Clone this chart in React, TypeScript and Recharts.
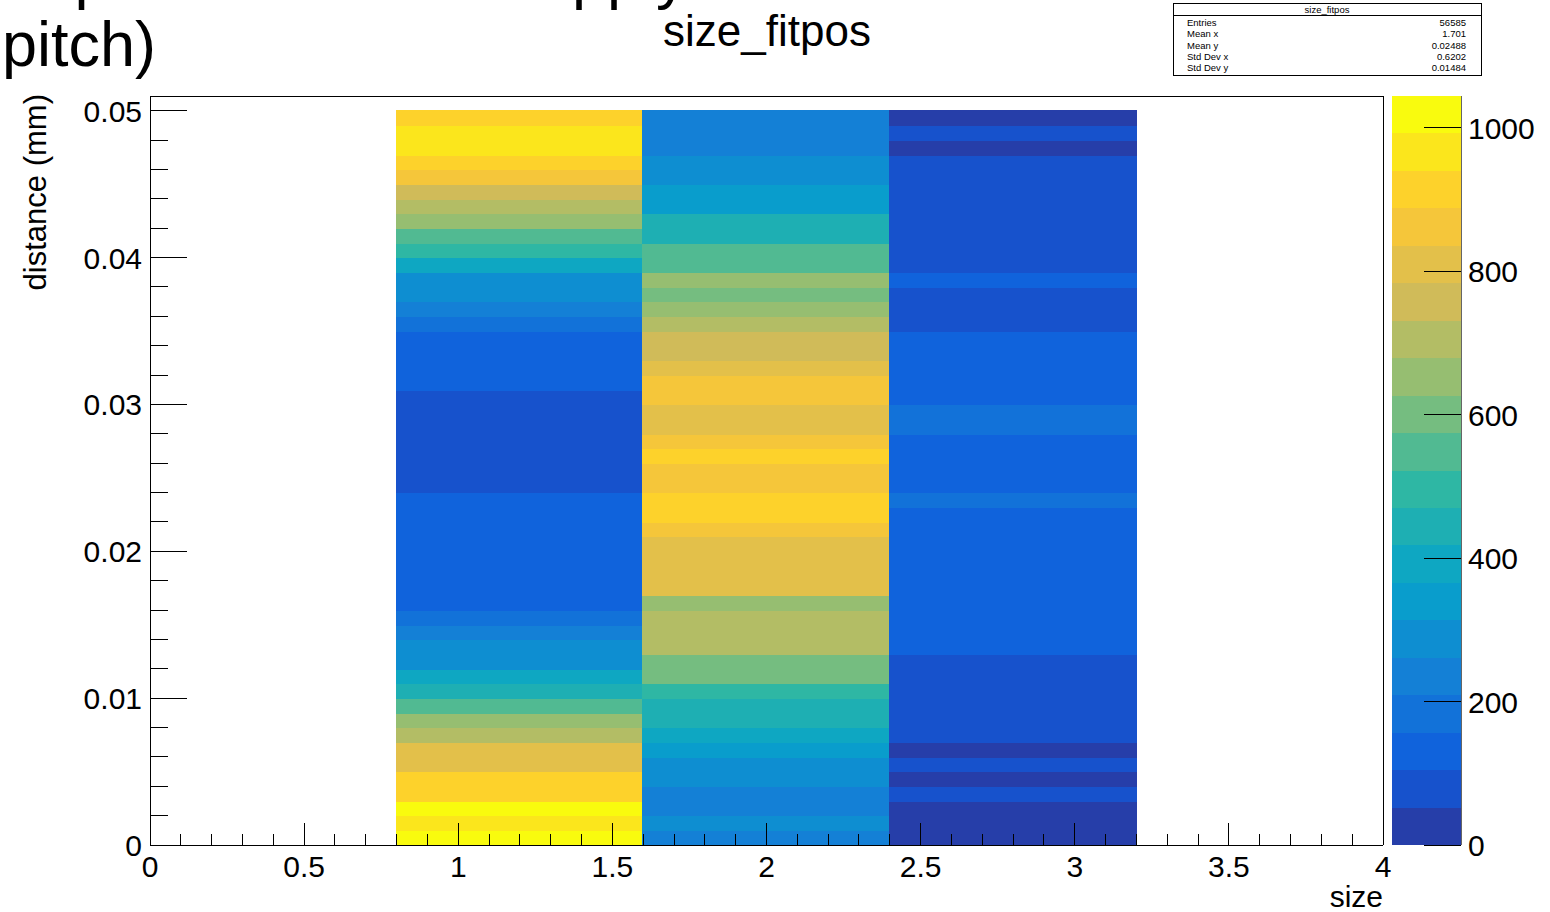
import React from 'react';
import { ScatterChart, Scatter, BarChart, Bar, XAxis, YAxis, ReferenceArea } from 'recharts';

const FONT = "'Liberation Sans', Arial, Helvetica, sans-serif";

// x bins (cluster size) that have entries, and their bin edges
const sizeValues = [1, 2, 3];
const sizeBinEdges = [0.8, 1.6, 2.4, 3.2];
const Y_BIN_WIDTH = 0.001;

// counts per 0.001 mm distance bin, from 0 (bottom) up to 0.05 (top)
const countsSize1 = [
  1044, 968, 1012, 921, 903, 818, 797, 712, 641, 556,
  452, 389, 301, 276, 227, 184, 148, 129, 121, 116,
  112, 118, 125, 137, 98, 86, 79, 74, 81, 92,
  101, 114, 132, 141, 153, 193, 244, 279, 306, 402,
  497, 561, 664, 708, 762, 858, 917, 958, 973, 925,
];
const countsSize2 = [
  238, 284, 251, 246, 292, 309, 341, 396, 447, 462,
  503, 597, 618, 694, 716, 703, 668, 806, 821, 812,
  827, 851, 912, 926, 872, 864, 908, 877, 829, 816,
  846, 869, 803, 771, 752, 718, 657, 611, 642, 568,
  541, 463, 438, 358, 331, 297, 272, 254, 241, 229,
];
const countsSize3 = [
  21, 34, 45, 61, 48, 67, 50, 72, 84, 91,
  96, 88, 99, 112, 124, 131, 137, 128, 142, 133,
  126, 119, 138, 163, 147, 135, 129, 141, 168, 160,
  144, 132, 121, 117, 108, 97, 89, 83, 106, 78,
  74, 71, 66, 62, 59, 57, 55, 49, 53, 38,
];
const countsBySize = [countsSize1, countsSize2, countsSize3];

const xMajorTicks = [0, 0.5, 1, 1.5, 2, 2.5, 3, 3.5, 4];
const xTickLabels = ['0', '0.5', '1', '1.5', '2', '2.5', '3', '3.5', '4'];
const yMajorTicks = [0, 0.01, 0.02, 0.03, 0.04, 0.05];
const yTickLabels = ['0', '0.01', '0.02', '0.03', '0.04', '0.05'];
const zTicks = [0, 200, 400, 600, 800, 1000];

const statsRows = [
  ['Entries', '56585'],
  ['Mean x', '1.701'],
  ['Mean y', '0.02488'],
  ['Std Dev x', '0.6202'],
  ['Std Dev y', '0.01484'],
];

const Z_MAX = 1044;
const N_LEVELS = 20;

// ROOT kBird palette
const birdStops = [0, 0.125, 0.25, 0.375, 0.5, 0.625, 0.75, 0.875, 1];
const birdR = [0.2082, 0.0592, 0.078, 0.0232, 0.1802, 0.5301, 0.8186, 0.9956, 0.9764];
const birdG = [0.1664, 0.3599, 0.5041, 0.6419, 0.7178, 0.7492, 0.7328, 0.7862, 0.9832];
const birdB = [0.5293, 0.8684, 0.8385, 0.7914, 0.6425, 0.4662, 0.3499, 0.1968, 0.0539];

function birdColor(t: number) {
  let j = 0;
  while (j < birdStops.length - 2 && t > birdStops[j + 1]) j++;
  const f = (t - birdStops[j]) / (birdStops[j + 1] - birdStops[j]);
  const c = (a: number[]) => Math.round(255 * (a[j] + (a[j + 1] - a[j]) * f));
  return `rgb(${c(birdR)},${c(birdG)},${c(birdB)})`;
}

const levelColors = Array.from({ length: N_LEVELS }, (_, i) => birdColor((i + 0.99) / N_LEVELS));

function levelColor(v: number) {
  const lvl = Math.min(N_LEVELS - 1, Math.floor(v / (Z_MAX / N_LEVELS)));
  return levelColors[lvl];
}

function subdivide(majors: number[], n: number) {
  const out: number[] = [];
  for (let i = 0; i < majors.length - 1; i++) {
    for (let k = 1; k < n; k++) out.push(+(majors[i] + ((majors[i + 1] - majors[i]) * k) / n).toFixed(6));
  }
  return out;
}

const xTicks = [...xMajorTicks, ...subdivide(xMajorTicks, 5)].sort((a, b) => a - b);
const yTicks = [...yMajorTicks, ...subdivide(yMajorTicks, 5)].sort((a, b) => a - b);

const cells = sizeValues.flatMap((s, c) =>
  countsBySize[c].map((v, i) => ({
    key: `${s}-${i}`,
    size: s,
    x1: sizeBinEdges[c],
    x2: sizeBinEdges[c + 1],
    y1: +(i * Y_BIN_WIDTH).toFixed(6),
    y2: +((i + 1) * Y_BIN_WIDTH).toFixed(6),
    yc: +((i + 0.5) * Y_BIN_WIDTH).toFixed(6),
    v,
  }))
);

const colorbarRow: Record<string, number | string> = { name: 'z' };
levelColors.forEach((_, i) => {
  colorbarRow[`l${i}`] = Z_MAX / N_LEVELS;
});

const majorIndex = (list: number[], v: number) => list.findIndex((m) => Math.abs(m - v) < 1e-9);

const XTick = (props: any) => {
  const { x, y, payload } = props;
  const idx = majorIndex(xMajorTicks, payload.value);
  const len = idx >= 0 ? 22 : 11;
  return (
    <g>
      <line x1={x} x2={x} y1={y} y2={y - len} stroke="#000" strokeWidth={1} />
      {idx >= 0 && (
        <text x={x} y={y + 32} textAnchor="middle" fontSize={30} fontFamily={FONT} fill="#000">
          {xTickLabels[idx]}
        </text>
      )}
    </g>
  );
};

const YTick = (props: any) => {
  const { x, y, payload } = props;
  const idx = majorIndex(yMajorTicks, payload.value);
  const len = idx >= 0 ? 37 : 18;
  return (
    <g>
      <line x1={x} x2={x + len} y1={y} y2={y} stroke="#000" strokeWidth={1} />
      {idx >= 0 && (
        <text x={x - 8} y={y + 11} textAnchor="end" fontSize={30} fontFamily={FONT} fill="#000">
          {yTickLabels[idx]}
        </text>
      )}
    </g>
  );
};

const ZTick = (props: any) => {
  const { x, y, payload } = props;
  return (
    <g>
      <line x1={x - 37} x2={x} y1={y} y2={y} stroke="#000" strokeWidth={1} />
      <text x={x + 7} y={y + 11} textAnchor="start" fontSize={30} fontFamily={FONT} fill="#000">
        {payload.value}
      </text>
    </g>
  );
};

const NoMark = () => <g />;

export default function App() {
  return (
    <div style={{ position: 'absolute', left: 0, top: 0, width: 1550, height: 912, background: '#fff', overflow: 'hidden' }}>
      <div style={{ position: 'absolute', left: 0, top: 0, shapeRendering: 'crispEdges' }}>
        <ScatterChart width={1550} height={912} margin={{ top: 95, right: 0, bottom: 0, left: 0 }}>
          <XAxis
            xAxisId="x"
            dataKey="size"
            type="number"
            domain={[0, 4]}
            allowDataOverflow
            ticks={xTicks}
            interval={0}
            height={67}
            tickSize={0}
            tickMargin={0}
            tick={<XTick />}
            tickLine={false}
            axisLine={{ stroke: '#000' }}
          />
          <XAxis
            xAxisId="top"
            dataKey="size"
            orientation="top"
            type="number"
            domain={[0, 4]}
            allowDataOverflow
            height={1}
            tick={false}
            tickLine={false}
            axisLine={{ stroke: '#000' }}
          />
          <YAxis
            yAxisId="y"
            dataKey="yc"
            type="number"
            domain={[0, 0.051]}
            allowDataOverflow
            ticks={yTicks}
            interval={0}
            width={150}
            tickSize={0}
            tickMargin={0}
            tick={<YTick />}
            tickLine={false}
            axisLine={{ stroke: '#000' }}
          />
          <YAxis
            yAxisId="right"
            dataKey="yc"
            orientation="right"
            type="number"
            domain={[0, 0.051]}
            allowDataOverflow
            width={167}
            tick={false}
            tickLine={false}
            axisLine={{ stroke: '#000' }}
          />
          {cells.map((c) => (
            <ReferenceArea
              key={c.key}
              xAxisId="x"
              yAxisId="y"
              x1={c.x1}
              x2={c.x2}
              y1={c.y1}
              y2={c.y2}
              fill={levelColor(c.v)}
              fillOpacity={1}
              stroke={levelColor(c.v)}
              strokeWidth={1.6}
              ifOverflow="visible"
            />
          ))}
          <Scatter data={cells} xAxisId="x" yAxisId="y" dataKey="yc" shape={<NoMark />} isAnimationActive={false} />
          <Scatter data={cells} xAxisId="top" yAxisId="right" dataKey="yc" shape={<NoMark />} isAnimationActive={false} />
        </ScatterChart>
      </div>

      <div style={{ position: 'absolute', left: 1392, top: 86, shapeRendering: 'crispEdges' }}>
        <BarChart width={158} height={779} data={[colorbarRow]} margin={{ top: 10, right: 0, bottom: 20, left: 0 }} barCategoryGap={0} barGap={0}>
          <XAxis dataKey="name" hide />
          <YAxis
            orientation="right"
            type="number"
            domain={[0, Z_MAX]}
            allowDataOverflow
            ticks={zTicks}
            interval={0}
            width={89}
            tickSize={0}
            tickMargin={0}
            tick={<ZTick />}
            tickLine={false}
            axisLine={{ stroke: '#666' }}
          />
          {levelColors.map((col, i) => (
            <Bar key={i} dataKey={`l${i}`} stackId="z" fill={col} isAnimationActive={false} />
          ))}
        </BarChart>
      </div>

      <svg width={1550} height={912} style={{ position: 'absolute', left: 0, top: 0, pointerEvents: 'none' }} fontFamily={FONT}>
        <text x={1} y={-3} fontSize={63} fill="#000">Expected hit in the apply modulo</text>
        <text x={2} y={66} fontSize={63} fill="#000">pitch)</text>
        <text x={767} y={46} fontSize={44} textAnchor="middle" fill="#000">size_fitpos</text>
        <text x={46} y={94} fontSize={31} textAnchor="end" transform="rotate(-90 46 94)" fill="#000">distance (mm)</text>
        <text x={1383} y={907} fontSize={30} textAnchor="end" fill="#000">size</text>

        <g shapeRendering="crispEdges">
          <rect x={1173.5} y={3.5} width={308} height={72} fill="#fff" stroke="#000" strokeWidth={1} />
          <line x1={1173.5} x2={1481.5} y1={15.5} y2={15.5} stroke="#000" strokeWidth={1} />
        </g>
        <text x={1327} y={12.5} fontSize={9.5} textAnchor="middle" fill="#000">size_fitpos</text>
        {statsRows.map(([label, value], i) => (
          <g key={label}>
            <text x={1187} y={26 + i * 11.3} fontSize={9.5} fill="#000">{label}</text>
            <text x={1466} y={26 + i * 11.3} fontSize={9.5} textAnchor="end" fill="#000">{value}</text>
          </g>
        ))}
      </svg>
    </div>
  );
}
